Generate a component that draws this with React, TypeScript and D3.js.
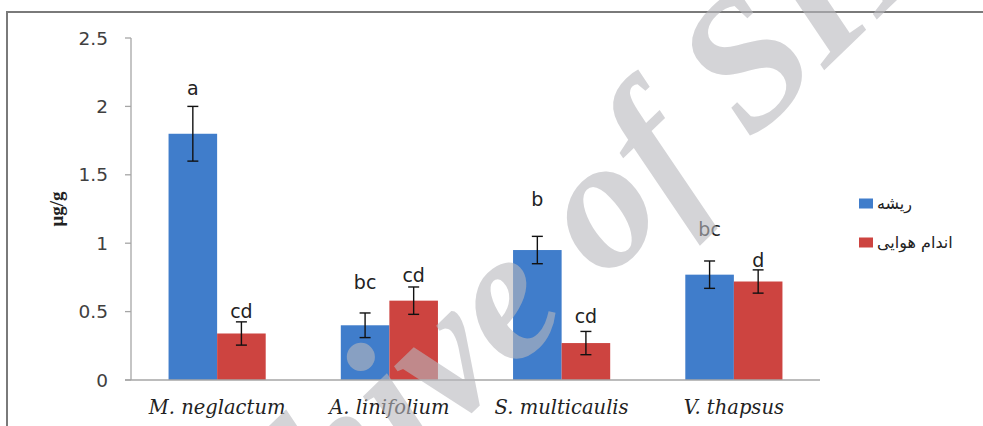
import React from "react";
import * as d3 from "d3";

const categories = ["M. neglactum", "A. linifolium", "S. multicaulis", "V. thapsus"];
const seriesNames = ["ریشه", "اندام هوایی"];
const rootValues = [1.8, 0.4, 0.95, 0.77];
const shootValues = [0.34, 0.58, 0.27, 0.72];
const rootErrors = [0.2, 0.09, 0.1, 0.1];
const shootErrors = [0.085, 0.1, 0.085, 0.085];
const rootLetters = ["a", "bc", "b", "bc"];
const shootLetters = ["cd", "cd", "cd", "d"];
const rootLetterLevels = [2.083, 0.665, 1.272, 1.053];
const shootLetterLevels = [0.453, 0.716, 0.417, 0.826];
const yTicks = [0, 0.5, 1, 1.5, 2, 2.5];
const yTickLabels = ["0", "0.5", "1", "1.5", "2", "2.5"];

const W = 983;
const H = 426;
const colors = ["#407dcb", "#cd4440"];

export default function App() {
  const x0 = 131;
  const x1 = 820;
  const y = d3.scaleLinear().domain([0, 2.5]).range([380, 38]);
  const xb = d3.scaleBand<string>().domain(categories).range([x0, x1]).paddingInner(0.436).paddingOuter(0.218);
  const xs = d3.scaleBand<number>().domain([0, 1]).range([0, xb.bandwidth()]);
  const series = [
    { vals: rootValues, errs: rootErrors, letters: rootLetters, levels: rootLetterLevels },
    { vals: shootValues, errs: shootErrors, letters: shootLetters, levels: shootLetterLevels },
  ];
  const sans = "'DejaVu Sans', sans-serif";
  return (
    <svg width={W} height={H} style={{ position: "absolute", left: 0, top: 0, background: "#fff" }}>
      <rect x={7} y={12} width={W + 20} height={H + 20} fill="#fff" stroke="#7a7a7a" strokeWidth={2} />
      {/* y axis */}
      <line x1={x0} x2={x0} y1={y(2.5)} y2={y(0)} stroke="#a6a6a6" strokeWidth={1.3} />
      {yTicks.map((t, i) => (
        <g key={i}>
          <line x1={x0 - 6} x2={x0} y1={y(t)} y2={y(t)} stroke="#a6a6a6" strokeWidth={1.3} />
          <text x={108} y={y(t) + 6.5} textAnchor="end" fontFamily={sans} fontSize={18.5} fill="#404040">
            {yTickLabels[i]}
          </text>
        </g>
      ))}
      <text
        transform={`translate(63, 209) rotate(-90)`}
        textAnchor="middle"
        fontFamily="'Liberation Serif', serif"
        fontWeight="bold"
        fontSize={19}
        fill="#222"
      >
        μg/g
      </text>
      {/* bars */}
      {series.map((s, si) =>
        categories.map((c, ci) => {
          const bx = (xb(c) as number) + (xs(si) as number);
          const bw = xs.bandwidth();
          const cx = bx + bw / 2;
          const v = s.vals[ci];
          const e = s.errs[ci];
          return (
            <g key={`${si}-${ci}`}>
              <rect x={bx} y={y(v)} width={bw} height={y(0) - y(v)} fill={colors[si]} />
              <line x1={cx} x2={cx} y1={y(v + e)} y2={y(v - e)} stroke="#111" strokeWidth={1.4} />
              <line x1={cx - 5.5} x2={cx + 5.5} y1={y(v + e)} y2={y(v + e)} stroke="#111" strokeWidth={1.4} />
              <line x1={cx - 5.5} x2={cx + 5.5} y1={y(v - e)} y2={y(v - e)} stroke="#111" strokeWidth={1.4} />
              <text x={cx} y={y(s.levels[ci])} textAnchor="middle" fontFamily={sans} fontSize={19} fill="#222">
                {s.letters[ci]}
              </text>
            </g>
          );
        })
      )}
      {/* x axis */}
      <line x1={x0 - 6} x2={x1} y1={y(0)} y2={y(0)} stroke="#a6a6a6" strokeWidth={1.5} />
      {categories.map((c) => (
        <text
          key={c}
          x={(xb(c) as number) + xb.bandwidth() / 2}
          y={414}
          textAnchor="middle"
          fontFamily="'DejaVu Serif', serif"
          fontStyle="italic"
          fontSize={19.5}
          fill="#222"
        >
          {c}
        </text>
      ))}
      {/* legend */}
      {seriesNames.map((n, i) => (
        <g key={n}>
          <rect x={859} y={198.5 + i * 39} width={14} height={10} fill={colors[i]} />
          <text x={877} y={209 + i * 39} fontFamily={sans} fontSize={16} fill="#222">
            {n}
          </text>
        </g>
      ))}
      {/* watermark */}
      <g
        transform="translate(605, 282) rotate(-44)"
        fontFamily="'Liberation Serif', serif"
        fontStyle="italic"
        fontWeight="bold"
        fontSize={187}
        fill="#b8b8bd"
        opacity={0.6}
      >
        <text x={-47} textAnchor="end">Archive</text>
        <text x={0} textAnchor="start">of SID</text>
      </g>
    </svg>
  );
}
